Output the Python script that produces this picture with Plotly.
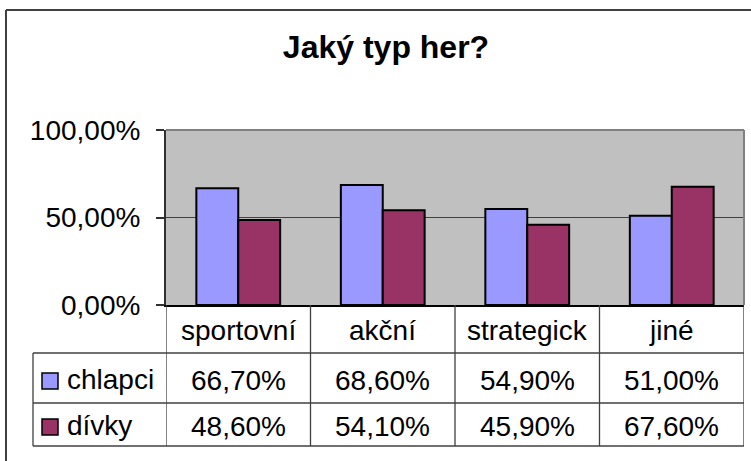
import plotly.graph_objects as go

categories = ["sportovní", "akční", "strategick", "jiné"]
series_names = ["chlapci", "dívky"]
chlapci = [66.7, 68.6, 54.9, 51.0]
divky = [48.6, 54.1, 45.9, 67.6]
y_ticks = [0, 50, 100]
title_text = "Jaký typ her?"

colors = ["#9999FF", "#993366"]
W, H = 751, 461
# plot area in page pixels
L, R, T, B = 166, 744, 130, 305
FONT = "Liberation Sans, Arial, sans-serif"


def px(x):
    return (x - L) / (R - L)


def py(y):
    return (B - y) / (B - T)


fig = go.Figure()
for name, vals, col in zip(series_names, [chlapci, divky], colors):
    fig.add_trace(go.Bar(
        x=list(range(len(categories))), y=vals, name=name,
        marker=dict(color=col, line=dict(color="black", width=2)),
        showlegend=False,
    ))

shapes = []
# outer chart frame (cropped at right and bottom)
shapes.append(dict(type="line", xref="paper", yref="paper", x0=px(6), x1=px(760),
                   y0=py(10), y1=py(10), line=dict(color="#404040", width=2)))
shapes.append(dict(type="line", xref="paper", yref="paper", x0=px(6), x1=px(6),
                   y0=py(10), y1=py(470), line=dict(color="#404040", width=2)))
# plot area border top/right
shapes.append(dict(type="line", xref="paper", yref="paper", x0=0, x1=1, y0=1, y1=1,
                   line=dict(color="#808080", width=2)))
shapes.append(dict(type="line", xref="paper", yref="paper", x0=1, x1=1, y0=0, y1=1,
                   line=dict(color="#808080", width=2)))

grid_col = "#404040"
for yy in [353, 403, 446]:
    shapes.append(dict(type="line", xref="paper", yref="paper", x0=px(33), x1=1,
                       y0=py(yy), y1=py(yy), line=dict(color=grid_col, width=1.3)))
n = len(categories)
for i in range(n + 1):
    shapes.append(dict(type="line", xref="x", yref="paper", x0=i - 0.5, x1=i - 0.5,
                       y0=0, y1=py(446), line=dict(color=grid_col, width=1.3)))
shapes.append(dict(type="line", xref="paper", yref="paper", x0=px(33), x1=px(33),
                   y0=py(353), y1=py(446), line=dict(color=grid_col, width=1.3)))

annotations = []
fs = 28
for i, c in enumerate(categories):
    annotations.append(dict(x=i, y=py(330), xref="x", yref="paper", text=c, showarrow=False,
                            font=dict(size=fs, color="black", family=FONT), xanchor="center", yanchor="middle"))
row_y = [380, 426]
for name, vals, col, ry in zip(series_names, [chlapci, divky], colors, row_y):
    for i, v in enumerate(vals):
        annotations.append(dict(x=i, y=py(ry), xref="x", yref="paper",
                                text=f"{v:.2f}%".replace(".", ","), showarrow=False,
                                font=dict(size=fs, color="black", family=FONT),
                                xanchor="center", yanchor="middle"))
    annotations.append(dict(x=px(65), y=py(ry - 1), xref="paper", yref="paper", text=name, showarrow=False,
                            font=dict(size=fs, color="black", family=FONT), xanchor="left", yanchor="middle"))
    shapes.append(dict(type="rect", xref="paper", yref="paper", x0=px(42), x1=px(58),
                       y0=py(ry - 7), y1=py(ry + 9), fillcolor=col, line=dict(color="black", width=1.5)))

tick_text = [f"{v:.2f}%".replace(".", ",") for v in y_ticks]

fig.update_layout(
    width=W, height=H,
    margin=dict(l=L, r=W - R, t=T, b=H - B, pad=0),
    paper_bgcolor="white", plot_bgcolor="#C0C0C0",
    barmode="group", bargap=0.42, bargroupgap=0,
    font=dict(family=FONT, color="black"),
    title=dict(text=f"<b>{title_text}</b>", xref="container", x=386 / W, xanchor="center",
               yref="container", y=1 - 47 / H, yanchor="middle",
               font=dict(size=32, family=FONT, color="black")),
    xaxis=dict(range=[-0.5, n - 0.5], showticklabels=False, showgrid=False, zeroline=False,
               showline=True, linecolor="black", linewidth=2, ticks=""),
    yaxis=dict(range=[0, 100], tickvals=y_ticks, ticktext=tick_text,
               showgrid=True, gridcolor="#404040", gridwidth=1, zeroline=False,
               showline=True, linecolor="#303030", linewidth=2,
               ticks="outside", ticklen=8, tickcolor="#303030", tickwidth=2,
               ticklabelstandoff=10,
               tickfont=dict(size=28, family=FONT, color="black")),
    shapes=shapes, annotations=annotations,
)

fig.write_html("out.html", config={"displayModeBar": False},
               post_script="document.body.style.margin='0';")
